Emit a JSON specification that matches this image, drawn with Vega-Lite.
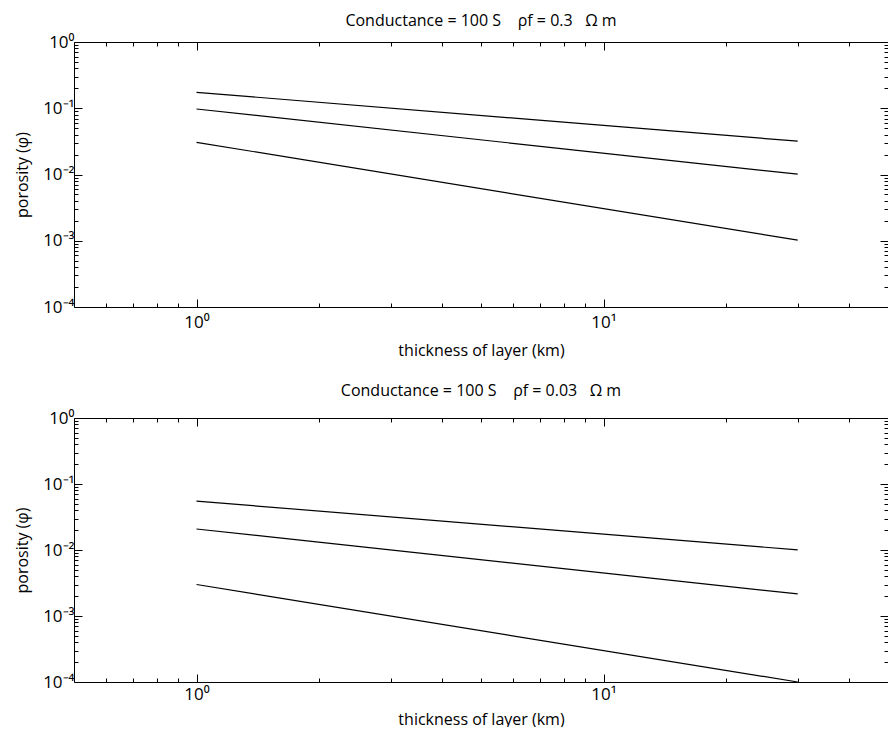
{
  "$schema": "https://vega.github.io/schema/vega-lite/v6.json",
  "background": "white",
  "padding": {"left": 14, "top": 13, "right": 0, "bottom": 0},
  "spacing": 25,
  "config": {
    "font": "Open Sans",
    "view": {"stroke": null},
    "axis": {
      "grid": false,
      "domainColor": "black",
      "domainWidth": 1,
      "tickColor": "black",
      "tickWidth": 1,
      "labelColor": "black",
      "titleColor": "black",
      "labelFontSize": 17,
      "titleFontSize": 16,
      "titleFontWeight": "normal",
      "labelFont": "Open Sans",
      "titleFont": "Open Sans"
    },
    "title": {"fontSize": 16, "fontWeight": "normal", "color": "black", "font": "Open Sans", "offset": 10}
  },
  "datasets": {
    "top": [
      {"thickness": 1, "porosity": 0.174, "series": "a"},
      {"thickness": 30, "porosity": 0.0318, "series": "a"},
      {"thickness": 1, "porosity": 0.0975, "series": "b"},
      {"thickness": 30, "porosity": 0.0101, "series": "b"},
      {"thickness": 1, "porosity": 0.0306, "series": "c"},
      {"thickness": 30, "porosity": 0.00102, "series": "c"}
    ],
    "bottom": [
      {"thickness": 1, "porosity": 0.055, "series": "a"},
      {"thickness": 30, "porosity": 0.01004, "series": "a"},
      {"thickness": 1, "porosity": 0.0208, "series": "b"},
      {"thickness": 30, "porosity": 0.00216, "series": "b"},
      {"thickness": 1, "porosity": 0.003, "series": "c"},
      {"thickness": 30, "porosity": 0.0001, "series": "c"}
    ]
  },
  "vconcat": [
    {
      "title": {"text": "Conductance = 100 S\u00a0\u00a0\u00a0\u00a0ρf = 0.3\u00a0\u00a0\u00a0Ω m", "offset": 4},
      "data": {"name": "top"},
      "width": 814,
      "height": 265,
      "layer": [
        {
          "mark": {"type": "line", "color": "black", "strokeWidth": 1.2},
          "encoding": {
            "detail": {"field": "series"},
            "x": {
              "field": "thickness", "type": "quantitative",
              "scale": {"type": "log", "domain": [0.5, 50], "nice": false},
              "axis": {
                "orient": "bottom",
                "title": "thickness of layer (km)",
                "values": [0.6, 0.7, 0.8, 0.9, 1, 2, 3, 4, 5, 6, 7, 8, 9, 10, 20, 30, 40],
                "labelExpr": "datum.value == 1 ? '10⁰' : datum.value == 10 ? '10¹' : ''",
                "tickSize": {"condition": {"test": "datum.value == 1 || datum.value == 10", "value": -8}, "value": -4},
                "labelPadding": 15,
                "titlePadding": 8,
                "labelFlush": false,
                "labelOverlap": false
              }
            },
            "y": {
              "field": "porosity", "type": "quantitative",
              "scale": {"type": "log", "domain": [0.0001, 1], "nice": false},
              "axis": {
                "orient": "left",
                "title": "porosity (φ)",
                "values": [0.0001, 0.0002, 0.0003, 0.0004, 0.0005, 0.0006, 0.0007, 0.0008, 0.0009, 0.001, 0.002, 0.003, 0.004, 0.005, 0.006, 0.007, 0.008, 0.009, 0.01, 0.02, 0.03, 0.04, 0.05, 0.06, 0.07, 0.08, 0.09, 0.1, 0.2, 0.3, 0.4, 0.5, 0.6, 0.7, 0.8, 0.9, 1],
                "labelExpr": "datum.value == 1 ? '10⁰' : datum.value == 0.1 ? '10⁻¹' : datum.value == 0.01 ? '10⁻²' : datum.value == 0.001 ? '10⁻³' : datum.value == 0.0001 ? '10⁻⁴' : ''",
                "tickSize": {"condition": {"test": "datum.value == 1 || datum.value == 0.1 || datum.value == 0.01 || datum.value == 0.001 || datum.value == 0.0001", "value": -8}, "value": -4},
                "labelPadding": 8,
                "labelFlush": false,
                "labelOverlap": false,
                "titlePadding": 12
              }
            }
          }
        },
        {
          "mark": {"type": "line", "opacity": 0},
          "encoding": {
            "detail": {"field": "series"},
            "x": {
              "field": "thickness", "type": "quantitative",
              "scale": {"type": "log", "domain": [0.5, 50], "nice": false},
              "axis": {
                "orient": "top", "title": null, "labels": false,
                "values": [0.6, 0.7, 0.8, 0.9, 1, 2, 3, 4, 5, 6, 7, 8, 9, 10, 20, 30, 40],
                "tickSize": {"condition": {"test": "datum.value == 1 || datum.value == 10", "value": -8}, "value": -4}
              }
            },
            "y": {
              "field": "porosity", "type": "quantitative",
              "scale": {"type": "log", "domain": [0.0001, 1], "nice": false},
              "axis": {
                "orient": "right", "title": null, "labels": false,
                "values": [0.0001, 0.0002, 0.0003, 0.0004, 0.0005, 0.0006, 0.0007, 0.0008, 0.0009, 0.001, 0.002, 0.003, 0.004, 0.005, 0.006, 0.007, 0.008, 0.009, 0.01, 0.02, 0.03, 0.04, 0.05, 0.06, 0.07, 0.08, 0.09, 0.1, 0.2, 0.3, 0.4, 0.5, 0.6, 0.7, 0.8, 0.9, 1],
                "tickSize": {"condition": {"test": "datum.value == 1 || datum.value == 0.1 || datum.value == 0.01 || datum.value == 0.001 || datum.value == 0.0001", "value": -8}, "value": -4}
              }
            }
          }
        }
      ],
      "resolve": {"axis": {"x": "independent", "y": "independent"}}
    },
    {
      "title": {"text": "Conductance = 100 S\u00a0\u00a0\u00a0\u00a0ρf = 0.03\u00a0\u00a0\u00a0Ω m", "offset": 10},
      "data": {"name": "bottom"},
      "width": 814,
      "height": 264,
      "layer": [
        {
          "mark": {"type": "line", "color": "black", "strokeWidth": 1.2},
          "encoding": {
            "detail": {"field": "series"},
            "x": {
              "field": "thickness", "type": "quantitative",
              "scale": {"type": "log", "domain": [0.5, 50], "nice": false},
              "axis": {
                "orient": "bottom",
                "title": "thickness of layer (km)",
                "values": [0.6, 0.7, 0.8, 0.9, 1, 2, 3, 4, 5, 6, 7, 8, 9, 10, 20, 30, 40],
                "labelExpr": "datum.value == 1 ? '10⁰' : datum.value == 10 ? '10¹' : ''",
                "tickSize": {"condition": {"test": "datum.value == 1 || datum.value == 10", "value": -8}, "value": -4},
                "labelPadding": 12,
                "titlePadding": 5,
                "labelFlush": false,
                "labelOverlap": false
              }
            },
            "y": {
              "field": "porosity", "type": "quantitative",
              "scale": {"type": "log", "domain": [0.0001, 1], "nice": false},
              "axis": {
                "orient": "left",
                "title": "porosity (φ)",
                "values": [0.0001, 0.0002, 0.0003, 0.0004, 0.0005, 0.0006, 0.0007, 0.0008, 0.0009, 0.001, 0.002, 0.003, 0.004, 0.005, 0.006, 0.007, 0.008, 0.009, 0.01, 0.02, 0.03, 0.04, 0.05, 0.06, 0.07, 0.08, 0.09, 0.1, 0.2, 0.3, 0.4, 0.5, 0.6, 0.7, 0.8, 0.9, 1],
                "labelExpr": "datum.value == 1 ? '10⁰' : datum.value == 0.1 ? '10⁻¹' : datum.value == 0.01 ? '10⁻²' : datum.value == 0.001 ? '10⁻³' : datum.value == 0.0001 ? '10⁻⁴' : ''",
                "tickSize": {"condition": {"test": "datum.value == 1 || datum.value == 0.1 || datum.value == 0.01 || datum.value == 0.001 || datum.value == 0.0001", "value": -8}, "value": -4},
                "labelPadding": 8,
                "labelFlush": false,
                "labelOverlap": false,
                "titlePadding": 12
              }
            }
          }
        },
        {
          "mark": {"type": "line", "opacity": 0},
          "encoding": {
            "detail": {"field": "series"},
            "x": {
              "field": "thickness", "type": "quantitative",
              "scale": {"type": "log", "domain": [0.5, 50], "nice": false},
              "axis": {
                "orient": "top", "title": null, "labels": false,
                "values": [0.6, 0.7, 0.8, 0.9, 1, 2, 3, 4, 5, 6, 7, 8, 9, 10, 20, 30, 40],
                "tickSize": {"condition": {"test": "datum.value == 1 || datum.value == 10", "value": -8}, "value": -4}
              }
            },
            "y": {
              "field": "porosity", "type": "quantitative",
              "scale": {"type": "log", "domain": [0.0001, 1], "nice": false},
              "axis": {
                "orient": "right", "title": null, "labels": false,
                "values": [0.0001, 0.0002, 0.0003, 0.0004, 0.0005, 0.0006, 0.0007, 0.0008, 0.0009, 0.001, 0.002, 0.003, 0.004, 0.005, 0.006, 0.007, 0.008, 0.009, 0.01, 0.02, 0.03, 0.04, 0.05, 0.06, 0.07, 0.08, 0.09, 0.1, 0.2, 0.3, 0.4, 0.5, 0.6, 0.7, 0.8, 0.9, 1],
                "tickSize": {"condition": {"test": "datum.value == 1 || datum.value == 0.1 || datum.value == 0.01 || datum.value == 0.001 || datum.value == 0.0001", "value": -8}, "value": -4}
              }
            }
          }
        }
      ],
      "resolve": {"axis": {"x": "independent", "y": "independent"}}
    }
  ]
}
